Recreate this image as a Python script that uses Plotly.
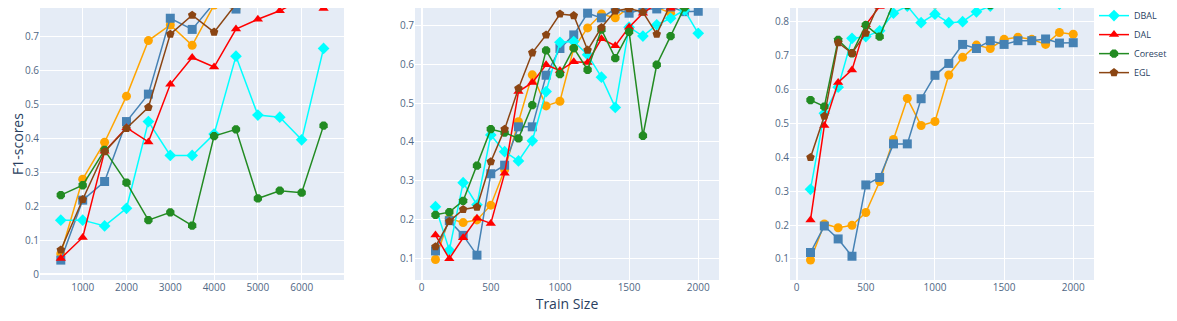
import plotly.graph_objects as go
from plotly.subplots import make_subplots

# ── DATA ───────────────────────────────────────────────────────
x_left = [500, 1000, 1500, 2000, 2500, 3000, 3500, 4000, 4500, 5000, 5500, 6000, 6500]
x_mid = list(range(100, 2001, 100))
x_right = list(range(100, 2001, 100))

# left panel
random_left = [0.06, 0.28, 0.389, 0.525, 0.689, 0.735, 0.675, 0.794, 0.784, 0.82, 0.81, 0.83, 0.84]
uncert_left = [0.041, 0.218, 0.273, 0.45, 0.531, 0.755, 0.722, 0.8, 0.782, 0.82, 0.83, 0.83, 0.812]
dbal_left = [0.159, 0.159, 0.142, 0.194, 0.45, 0.35, 0.35, 0.413, 0.643, 0.469, 0.463, 0.396, 0.666]
dal_left = [0.046, 0.108, 0.362, 0.432, 0.39, 0.56, 0.639, 0.611, 0.723, 0.752, 0.777, 0.81, 0.784]
coreset_left = [0.233, 0.262, 0.366, 0.27, 0.159, 0.182, 0.143, 0.407, 0.427, 0.223, 0.246, 0.24, 0.438]
egl_left = [0.071, 0.22, 0.361, 0.43, 0.492, 0.708, 0.764, 0.714, 0.797, 0.815, 0.83, 0.81, 0.84]

# middle panel
random_mid = [0.097, 0.203, 0.192, 0.199, 0.237, 0.328, 0.452, 0.573, 0.493, 0.505,
              0.642, 0.694, 0.73, 0.72, 0.747, 0.753, 0.747, 0.732, 0.767, 0.762]
uncert_mid = [0.119, 0.197, 0.159, 0.108, 0.318, 0.34, 0.439, 0.439, 0.572, 0.641,
              0.676, 0.732, 0.72, 0.743, 0.732, 0.743, 0.743, 0.748, 0.736, 0.737]
dbal_mid = [0.233, 0.121, 0.295, 0.238, 0.418, 0.375, 0.351, 0.403, 0.53, 0.657,
            0.659, 0.625, 0.567, 0.489, 0.696, 0.673, 0.702, 0.719, 0.74, 0.68]
dal_mid = [0.16, 0.099, 0.153, 0.203, 0.19, 0.319, 0.53, 0.553, 0.599, 0.584,
           0.607, 0.605, 0.666, 0.648, 0.696, 0.732, 0.756, 0.745, 0.749, 0.753]
coreset_mid = [0.212, 0.219, 0.248, 0.339, 0.433, 0.424, 0.409, 0.495, 0.636, 0.575,
               0.642, 0.586, 0.69, 0.616, 0.684, 0.416, 0.599, 0.673, 0.747, 0.775]
egl_mid = [0.13, 0.195, 0.226, 0.232, 0.349, 0.433, 0.538, 0.63, 0.676, 0.73,
           0.726, 0.637, 0.695, 0.738, 0.744, 0.735, 0.678, 0.756, 0.765, 0.762]

# right panel
random_right = random_mid
uncert_right = uncert_mid
dbal_right = [0.305, 0.529, 0.606, 0.75, 0.755, 0.772, 0.824, 0.845, 0.796, 0.821,
              0.796, 0.799, 0.828, 0.845, 0.856, 0.862, 0.865, 0.862, 0.851, 0.865]
dal_right = [0.215, 0.493, 0.62, 0.657, 0.79, 0.844, 0.848, 0.86, 0.848, 0.851,
             0.86, 0.865, 0.862, 0.865, 0.865, 0.865, 0.865, 0.865, 0.865, 0.858]
coreset_right = [0.568, 0.549, 0.745, 0.706, 0.789, 0.755, 0.855, 0.848, 0.858, 0.851,
                 0.862, 0.863, 0.87, 0.848, 0.858, 0.862, 0.858, 0.87, 0.87, 0.858]
egl_right = [0.399, 0.521, 0.737, 0.706, 0.765, 0.858, 0.858, 0.865, 0.865, 0.865,
             0.865, 0.865, 0.865, 0.865, 0.865, 0.865, 0.865, 0.865, 0.858, 0.862]

METHODS = [
    # name, colour, symbol
    ('Random', 'orange', 'circle'),
    ('Uncertainty', 'steelblue', 'square'),
    ('DBAL', 'cyan', 'diamond'),
    ('DAL', 'red', 'triangle-up'),
    ('Coreset', 'forestgreen', 'octagon'),
    ('EGL', 'saddlebrown', 'pentagon'),
]

panels = [
    (x_left, [random_left, uncert_left, dbal_left, dal_left, coreset_left, egl_left]),
    (x_mid, [random_mid, uncert_mid, dbal_mid, dal_mid, coreset_mid, egl_mid]),
    (x_right, [random_right, uncert_right, dbal_right, dal_right, coreset_right, egl_right]),
]

fig = make_subplots(rows=1, cols=3, horizontal_spacing=0.0674)

for col, (xs, series) in enumerate(panels, start=1):
    for (name, color, symbol), ys in zip(METHODS, series):
        fig.add_trace(go.Scatter(
            x=xs, y=ys, name=name, mode='lines+markers',
            showlegend=(col == 1),
            line=dict(color=color, width=1.5),
            marker=dict(color=color, symbol=symbol, size=9),
        ), row=1, col=col)

tick_font = dict(size=10, color='#506784')
fig.update_xaxes(tickfont=tick_font)
fig.update_yaxes(tickfont=tick_font)

fig.update_xaxes(range=[25, 6966], dtick=1000, row=1, col=1)
fig.update_xaxes(range=[-48, 2150], dtick=500, row=1, col=2,
                 title=dict(text='Train Size', font=dict(size=14), standoff=4))
fig.update_xaxes(range=[-48, 2150], dtick=500, row=1, col=3)

fig.update_yaxes(range=[-0.0177, 0.7852], dtick=0.1, row=1, col=1,
                 title=dict(text='F1-scores', font=dict(size=14), standoff=2))
fig.update_yaxes(range=[0.044, 0.7454], dtick=0.1, row=1, col=2)
fig.update_yaxes(range=[0.038, 0.8393], dtick=0.1, row=1, col=3)

fig.update_layout(
    width=1169, height=313,
    template='plotly',
    font=dict(family='Open Sans, sans-serif', color='#2a3f5f'),
    margin=dict(l=32, r=83, t=0, b=41, autoexpand=False),
    legend=dict(x=1.0, y=1.165, xanchor='left', yanchor='top',
                tracegroupgap=0, font=dict(size=9),
                bgcolor='rgba(0,0,0,0)'),
)

fig.write_html("out.html")
